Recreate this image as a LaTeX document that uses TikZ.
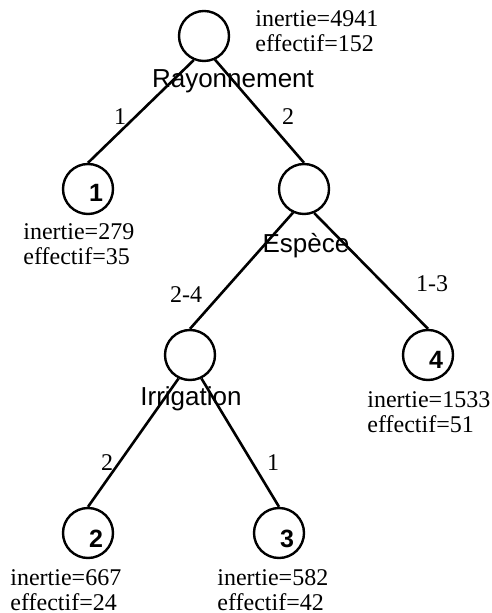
\documentclass[tikz,border=0pt]{standalone}
\usepackage{fontspec}
\setmainfont{Liberation Serif}
\setsansfont{Liberation Sans}
\begin{document}
\begin{tikzpicture}[x=0.5pt,y=-0.5pt,
  split/.style={circle,draw,line width=1.2pt,minimum size=25pt,inner sep=0pt},
  branch/.style={line width=1.3pt},
  stat/.style={font=\fontsize{12}{14}\selectfont,anchor=base west,inner sep=0pt},
  var/.style={font=\sffamily\fontsize{13}{15}\selectfont,anchor=base,inner sep=0pt},
  lab/.style={font=\fontsize{12}{14}\selectfont,anchor=base,inner sep=0pt},
  num/.style={font=\sffamily\bfseries\fontsize{12.5}{14}\selectfont,anchor=base,inner sep=0pt}]
\useasboundingbox (0,0) rectangle (491,613);

% tree nodes
\node[split] (root) at (204,36) {};
\node[split] (n1)   at (88,189) {};
\node[split] (esp)  at (304,189) {};
\node[split] (n4)   at (428,355) {};
\node[split] (irr)  at (190,355) {};
\node[split] (n2)   at (88,533) {};
\node[split] (n3)   at (279,533) {};

% branches
\draw[branch] (root.247) -- (n1.north);
\draw[branch] (root.295) -- (esp.north);
\draw[branch] (esp.245) -- (irr.north);
\draw[branch] (esp.293) -- (n4.north);
\draw[branch] (irr.244) -- (n2.north);
\draw[branch] (irr.296) -- (n3.north);

% splitting variables
\node[var] (vroot) at (233,88) {Rayonnement};
\node[var] (vesp)  at (306,253) {Espèce};
\node[var] (virr)  at (191,405) {Irrigation};

% branch labels
\node[lab] (b1)  at (120,125) {1};
\node[lab] (b2)  at (288,125) {2};
\node[lab] (b24) at (186,303) {2-4};
\node[lab] (b13) at (432,292) {1-3};
\node[lab] (b2b) at (107,470) {2};
\node[lab] (b1b) at (273,470) {1};

% leaf numbers
\node[num] (l1) at (96,202) {1};
\node[num] (l2) at (96,547) {2};
\node[num] (l3) at (287,547) {3};
\node[num] (l4) at (436,368) {4};

% statistics
\node[stat] (iroot) at (255,27) {inertie=4941};
\node[stat] (eroot) at (255,52) {effectif=152};
\node[stat] (i1) at (23,240) {inertie=279};
\node[stat] (e1) at (23,265) {effectif=35};
\node[stat] (i4) at (367,407) {inertie=1533};
\node[stat] (e4) at (367,432) {effectif=51};
\node[stat] (i2) at (10,585) {inertie=667};
\node[stat] (e2) at (10,610) {effectif=24};
\node[stat] (i3) at (217,585) {inertie=582};
\node[stat] (e3) at (217,610) {effectif=42};
\end{tikzpicture}
\end{document}
